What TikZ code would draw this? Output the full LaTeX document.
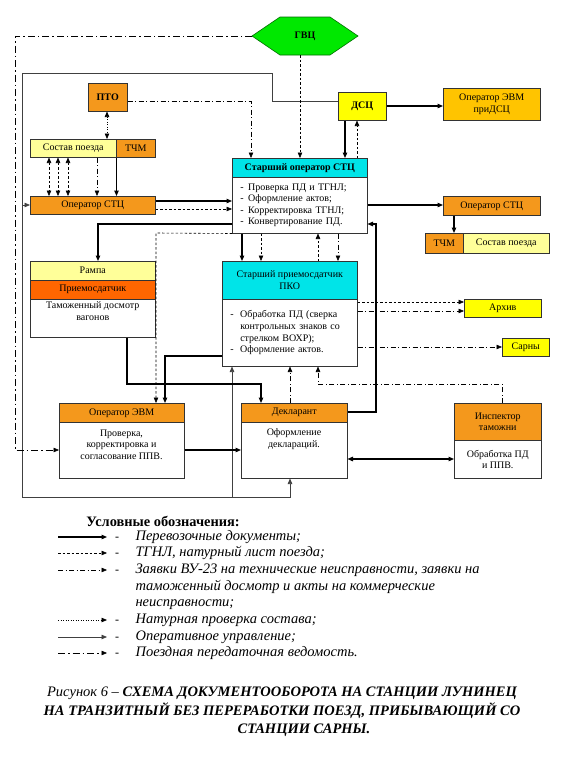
\documentclass[tikz,border=0pt]{standalone}
\usepackage{fontspec}
\setmainfont{Liberation Serif}
\usetikzlibrary{arrows.meta}
\definecolor{orng}{RGB}{244,152,28}
\definecolor{gold}{RGB}{255,196,0}
\definecolor{redor}{RGB}{255,102,0}
\definecolor{lyel}{RGB}{255,255,153}
\definecolor{yel}{RGB}{255,255,0}
\definecolor{cyn}{RGB}{0,228,232}
\definecolor{grn}{RGB}{0,232,0}
\definecolor{dgrn}{RGB}{0,110,0}
\newcommand\lii{\makebox[8pt][l]{-}}
\newcommand\ljj{\makebox[10pt][l]{-}}
\begin{document}
\begin{tikzpicture}[x=1pt,y=-1pt,
  box/.style={draw=black!80, line width=0.5pt, anchor=north west, inner sep=0pt, align=center, font=\fontsize{10}{11.5}\selectfont},
  bf/.style={font=\fontsize{10}{11.5}\selectfont\bfseries},
  tip/.style={-{Triangle[length=5.5pt,width=4.5pt]}},
  tips/.style={{Triangle[length=5.5pt,width=4.5pt]}-{Triangle[length=5.5pt,width=4.5pt]}},
  doc/.style={line width=1.1pt},
  tgnl/.style={line width=0.6pt, dash pattern=on 2.5pt off 2pt},
  zay/.style={line width=0.6pt, dash pattern=on 5pt off 2.5pt on 1pt off 2.5pt},
  nat/.style={line width=0.7pt, dash pattern=on 1pt off 1.5pt},
  oper/.style={line width=0.7pt, draw=black!75},
  ppv/.style={line width=0.6pt, dash pattern=on 7pt off 3pt on 1.5pt off 3pt},
  lgt/.style={anchor=west, font=\fontsize{14.5}{16.6}\selectfont\itshape},
]
\useasboundingbox (0,0) rectangle (560,782);
\fill[white] (0,0) rectangle (560,782);

% GVC
\draw[fill=grn, draw=dgrn, line width=0.6pt] (252,36) -- (280,17) -- (330,17) -- (358,36) -- (330,55) -- (280,55) -- cycle;
\node[bf] (gvc) at (305,36) {ГВЦ};
\coordinate (gvcL) at (252,36);
\coordinate (gvcB) at (300,55);

% boxes
\node[box, bf, fill=orng, minimum width=39, minimum height=28] (pto) at (88,83) {ПТО};
\node[box, bf, fill=yel, minimum width=48, minimum height=28] (dsc) at (338,92) {ДСЦ};
\node[box, fill=gold, minimum width=97, minimum height=32] (evmdsc) at (443,88) {Оператор ЭВМ\\приДСЦ};
\node[box, fill=lyel, minimum width=86, minimum height=18] (sostav) at (30,139) {Состав поезда};
\node[box, fill=orng, minimum width=39, minimum height=18] (tchm) at (116,139) {ТЧМ};
\node[box, fill=orng, minimum width=125, minimum height=18] (opstc) at (30,196) {Оператор СТЦ};
\node[box, bf, fill=cyn, minimum width=135, minimum height=19] (starH) at (232,158) {Старший оператор СТЦ};
\node[box, minimum width=135, minimum height=56, align=left, text width=119pt, inner xsep=8pt, font=\fontsize{10}{11.3}\selectfont] (starB) at (232,177) {\lii Проверка ПД и ТГНЛ;\\\lii Оформление актов;\\\lii Корректировка ТГНЛ;\\\lii Конвертирование ПД.};
\node[box, fill=orng, minimum width=97, minimum height=19] (opstcR) at (443,196) {Оператор СТЦ};
\node[box, fill=orng, minimum width=38, minimum height=20] (tchmR) at (425,233) {ТЧМ};
\node[box, fill=lyel, minimum width=86, minimum height=20] (sostavR) at (463,233) {Состав поезда};
\node[box, fill=lyel, minimum width=125, minimum height=19] (rampa) at (30,261) {Рампа};
\node[box, fill=redor, minimum width=125, minimum height=19] (rampaP) at (30,280) {Приемосдатчик};
\node[box, minimum width=125, minimum height=38] (rampaB) at (30,299) {Таможенный досмотр\\вагонов\\[3pt]};
\node[box, fill=cyn, minimum width=135, minimum height=38] (pkoH) at (222,261) {Старший приемосдатчик\\ПКО};
\node[box, minimum width=135, minimum height=67, align=left, text width=119pt, inner xsep=8pt, font=\fontsize{10}{11.7}\selectfont] (pkoB) at (222,299) {\ljj Обработка ПД (сверка\\\hspace*{10pt}контрольных знаков со\\\hspace*{10pt}стрелком ВОХР);\\\ljj Оформление актов.\\[4pt]};
\node[box, fill=yel, minimum width=77, minimum height=18] (arhiv) at (464,299) {Архив};
\node[box, fill=yel, minimum width=47, minimum height=18] (sarny) at (502,338) {Сарны};
\node[box, fill=orng, minimum width=125, minimum height=19] (evmH) at (59,403) {Оператор ЭВМ};
\node[box, minimum width=125, minimum height=56] (evmB) at (59,422) {};
\node[align=center, font=\fontsize{10}{11.5}\selectfont] (evmT) at (121.5,444.5) {Проверка,\\корректировка и\\согласование ППВ.};
\node[box, fill=orng, minimum width=106, minimum height=19] (deklH) at (241,403) {Декларант};
\node[box, minimum width=106, minimum height=56] (deklB) at (241,422) {};
\node[align=center, font=\fontsize{10}{11.5}\selectfont] (deklT) at (294,439) {Оформление\\деклараций.};
\node[box, fill=orng, minimum width=87, minimum height=37] (inspH) at (454,403) {Инспектор\\таможни};
\node[box, minimum width=87, minimum height=38] (inspB) at (454,440) {Обработка ПД\\и ППВ.};

% operative management line
\coordinate (j1) at (22,205);
\coordinate (j2) at (232,497);
\draw[oper, tip] (dsc.west |- 0,101) -- (272,101) -- (272,73) -- (22,73) -- (22,497) -- (290,497) -- (deklB.south -| 290,0);
\draw[oper, tip] (j1) -- (opstc.west |- j1);
\draw[oper, tip] (j2) -- (pkoB.south -| j2);

% documents (thick solid)
\draw[doc, tip] (sostav.south east) -- (opstc.north -| sostav.south east);
\draw[doc, tip] (opstc.east |- 0,201) -- (starB.west |- 0,201);
\draw[doc, tip] (starB.east |- 0,205) -- (opstcR.west |- 0,205);
\draw[doc, tip] (dsc.south -| 345,0) -- (starH.north -| 345,0);
\draw[doc, tip] (dsc.east |- 0,106) -- (evmdsc.west |- 0,106);
\draw[doc, tip] (opstcR.south -| 454,0) -- (tchmR.north -| 454,0);
\draw[doc, tip] (starB.west |- 0,224) -- (98,224) -- (rampa.north -| 98,0);
\draw[doc, tip] (starB.south -| 242,0) -- (pkoH.north -| 242,0);
\draw[doc, tip] (rampaB.south -| 127,0) -- (127,384) -- (261,384) -- (deklH.north -| 261,0);
\draw[doc, tip] (pkoB.west |- 0,356) -- (165,356) -- (evmH.north -| 165,0);
\draw[doc, tip] (evmB.east |- 0,450) -- (deklB.west |- 0,450);
\draw[doc, tip] (deklH.east |- 0,412) -- (376,412) -- (376,224) -- (starB.east |- 0,224);
\draw[doc, tips] (deklB.east |- 0,459) -- (inspB.west |- 0,459);

% TGNL (dashed)
\foreach \xx in {49,58,68} \draw[tgnl, tips] (sostav.south -| \xx,0) -- (opstc.north -| \xx,0);
\draw[tgnl, tip] (opstc.east |- 0,209) -- (starB.west |- 0,209);
\draw[tgnl, tip] (gvcB) -- (starH.north -| gvcB);
\draw[tgnl, tip] (starH.north -| 357,0) -- (dsc.south -| 357,0);
\draw[tgnl, tip] (starB.south -| 261,0) -- (pkoH.north -| 261,0);
\draw[tgnl, tip] (starB.south west) -- (156,233) -- (evmH.north -| 156,0);
\draw[tgnl, tip] (pkoB.east |- 0,302) -- (arhiv.west |- 0,302);
\draw[tgnl, tip] (pkoH.north -| 318,0) -- (starB.south -| 318,0);

% zayavki (dash-dot)
\draw[zay, tip] (pto.east |- 0,101) -- (251,101) -- (starH.north -| 251,0);
\draw[zay, tip] (sostav.south -| 97,0) -- (opstc.north -| 97,0);
\draw[zay, tip] (starB.south -| 338,0) -- (pkoH.north -| 338,0);
\draw[zay, tip] (pkoB.east |- 0,311) -- (arhiv.west |- 0,311);
\draw[zay, tip] (pkoB.east |- 0,347) -- (sarny.west |- 0,347);
\draw[zay, tip] (inspH.north -| 502,0) -- (502,384) -- (318,384) -- (pkoB.south -| 318,0);
\draw[zay, tip] (deklH.north -| 290,0) -- (pkoB.south -| 290,0);

% natural check (dotted)
\draw[nat, tips] (pto.south -| 107,0) -- (sostav.north -| 107,0);

% PPV
\draw[ppv, tip] (gvcL) -- (15,36) -- (15,450) -- (evmB.west |- 0,450);

% legend
\node[font=\fontsize{14.4}{16}\selectfont\bfseries] (lgtitle) at (163,521) {Условные обозначения:};
\foreach \yy/\st/\nm in {537/doc/a, 553/tgnl/b, 570/zay/c, 620/nat/d, 637/oper/e, 653/ppv/f}{
  \coordinate (ls\nm) at (58,\yy);
  \coordinate (le\nm) at (107,\yy);
  \draw[\st, tip] (ls\nm) -- (le\nm);
  \node[font=\fontsize{12}{14}\selectfont] (ld\nm) at (117,\yy+1.5) {-};
}
\node[lgt] (lta) at (132,537) {Перевозочные документы;};
\node[lgt] (ltb) at (132,553) {ТГНЛ, натурный лист поезда;};
\node[lgt, align=left, anchor=north west] (ltc) at (132,560.5) {Заявки ВУ-23 на технические неисправности, заявки на\\таможенный досмотр и акты на коммерческие\\неисправности;};
\node[lgt] (ltd) at (132,620) {Натурная проверка состава;};
\node[lgt] (lte) at (132,637) {Оперативное управление;};
\node[lgt] (ltf) at (132,653) {Поездная передаточная ведомость.};

% caption
\node[align=center, font=\fontsize{14.5}{18.5}\selectfont\itshape] (cap) at (282,712) {Рисунок 6 -- \textbf{СХЕМА ДОКУМЕНТООБОРОТА НА СТАНЦИИ ЛУНИНЕЦ}\\\textbf{НА ТРАНЗИТНЫЙ БЕЗ ПЕРЕРАБОТКИ ПОЕЗД, ПРИБЫВАЮЩИЙ СО}\\\hspace*{44pt}\textbf{СТАНЦИИ САРНЫ.}};
\end{tikzpicture}
\end{document}
